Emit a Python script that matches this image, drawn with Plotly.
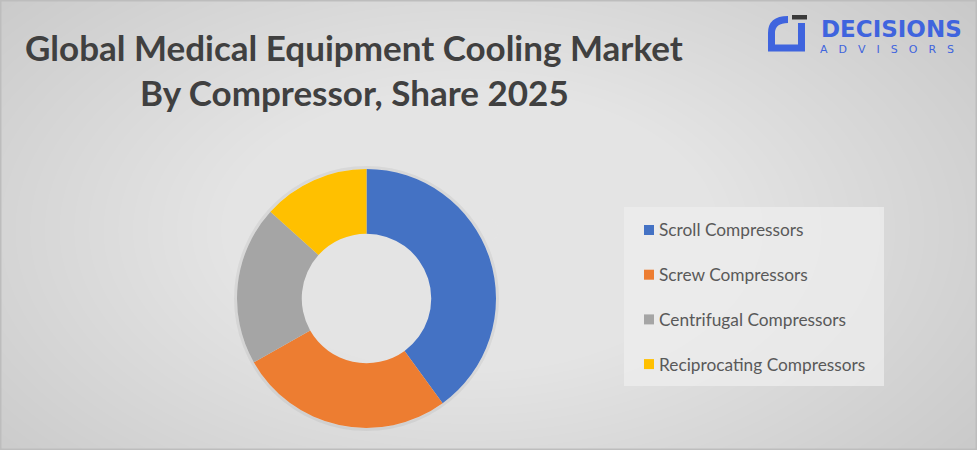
import plotly.graph_objects as go

W, H = 977, 450

# ---- data ----
categories = ["Scroll Compressors", "Screw Compressors", "Centrifugal Compressors", "Reciprocating Compressors"]
shares = [40.0, 26.8, 19.9, 13.3]
colors = ["#4472C4", "#ED7D31", "#A5A5A5", "#FFC000"]
title_lines = ["Global Medical Equipment Cooling Market", "By Compressor, Share 2025"]


def px(x):
    return x / W


def py(y):
    return 1 - y / H


shapes = []
# radial-ish background gradient from stacked translucent ellipses
cx, cy = 470, 230
N = 45
for i in range(N):
    f = 1 - i / N
    rx, ry = 660 * f, 380 * f
    shapes.append(dict(type="circle", xref="paper", yref="paper", layer="below",
                       x0=px(cx - rx), x1=px(cx + rx), y0=py(cy + ry), y1=py(cy - ry),
                       fillcolor="rgba(255,255,255,0.034)", line=dict(width=0)))

# faint shadow ring around the donut
shapes.append(dict(type="circle", xref="paper", yref="paper", layer="below",
                   x0=px(366.5 - 131), x1=px(366.5 + 131), y0=py(298.5 + 131), y1=py(298.5 - 131),
                   fillcolor="rgba(0,0,0,0)", line=dict(width=3, color="rgba(0,0,0,0.05)")))

# legend box
shapes.append(dict(type="rect", xref="paper", yref="paper", layer="below",
                   x0=px(624), x1=px(884), y0=py(386), y1=py(207),
                   fillcolor="rgba(238,238,238,0.75)", line=dict(width=0)))

annotations = []
leg_y0, leg_dy = 230, 44.7
for i, (lab, col) in enumerate(zip(categories, colors)):
    yc = leg_y0 + i * leg_dy
    shapes.append(dict(type="rect", xref="paper", yref="paper", layer="below",
                       x0=px(644), x1=px(654), y0=py(yc + 5), y1=py(yc - 5),
                       fillcolor=col, line=dict(width=0)))
    annotations.append(dict(text=lab, xref="paper", yref="paper", x=px(657), y=py(yc),
                            xanchor="left", yanchor="middle", showarrow=False,
                            font=dict(family="Lato", size=17.3, color="#595959")))

# title
for i, t in enumerate(title_lines):
    annotations.append(dict(text="<b>%s</b>" % t, xref="paper", yref="paper", x=px(354), y=py(47 + i * 45),
                            xanchor="center", yanchor="middle", showarrow=False,
                            font=dict(family="Lato", size=35, color="#404040")))

# logo
blue = "#3F64DE"
shapes.append(dict(type="path", xref="paper", yref="paper", layer="above",
                   path="M %f,%f Q %f,%f %f,%f L %f,%f L %f,%f L %f,%f" % (
                       px(788), py(19.5), px(771.5), py(19.5), px(771.5), py(33),
                       px(771.5), py(48), px(801.5), py(48), px(801.5), py(23)),
                   line=dict(color=blue, width=7), fillcolor="rgba(0,0,0,0)"))
shapes.append(dict(type="rect", xref="paper", yref="paper", layer="above",
                   x0=px(792), x1=px(807), y0=py(19.5), y1=py(15),
                   fillcolor="#3a3a3a", line=dict(width=0)))
annotations.append(dict(text="<b>DECISIONS</b>", xref="paper", yref="paper", x=px(819), y=py(29),
                        xanchor="left", yanchor="middle", showarrow=False,
                        font=dict(family="DejaVu Sans", size=23, color=blue)))
annotations.append(dict(text="A\u2002\u2002D\u2002\u2002V\u2002\u2002I\u2002\u2002S\u2002\u2002O\u2002\u2002R\u2002\u2002S",
                        xref="paper", yref="paper", x=px(818), y=py(49),
                        xanchor="left", yanchor="middle", showarrow=False,
                        font=dict(family="DejaVu Sans", size=11, color=blue)))

# frame border
shapes.append(dict(type="rect", xref="paper", yref="paper", layer="above",
                   x0=0, x1=1, y0=0, y1=1, line=dict(color="#bdbdbd", width=3),
                   fillcolor="rgba(0,0,0,0)"))

fig = go.Figure(go.Pie(
    labels=categories, values=shares, hole=0.5, sort=False, direction="clockwise",
    rotation=0, marker=dict(colors=colors, line=dict(width=0)),
    textinfo="none", hoverinfo="label+percent", showlegend=False,
    domain=dict(x=[px(237), px(496)], y=[py(428), py(169)]),
))

fig.update_layout(
    width=W, height=H, margin=dict(l=0, r=0, t=0, b=0),
    paper_bgcolor="#c6c6c6", plot_bgcolor="rgba(0,0,0,0)",
    shapes=shapes, annotations=annotations, showlegend=False,
)

fig.write_html("out.html", config={"displayModeBar": False},
               post_script="document.body.style.margin='0px';")
